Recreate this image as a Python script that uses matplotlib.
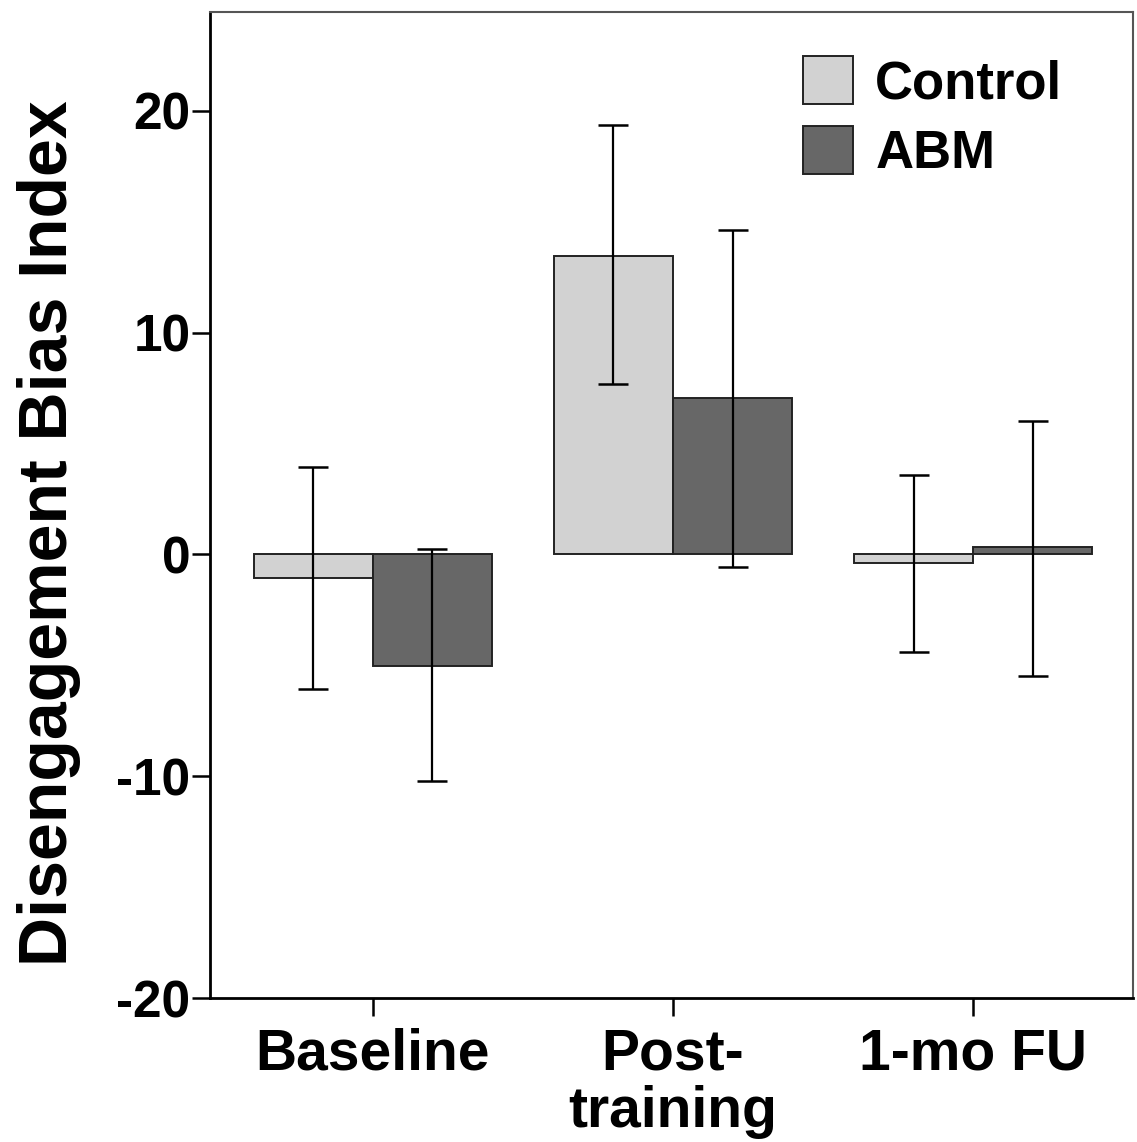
import numpy as np
import matplotlib
matplotlib.use("Agg")
import matplotlib.pyplot as plt

plt.rcParams['font.family'] = ['Liberation Sans', 'DejaVu Sans']
plt.rcParams['font.weight'] = 'bold'
plt.rcParams['axes.unicode_minus'] = False

categories = ['Baseline', 'Post-\ntraining', '1-mo FU']
groups = ['Control', 'ABM']

control_mean = [-1.05, 13.45, -0.4]
control_lo = [-6.05, 7.7, -4.38]
control_hi = [3.93, 19.35, 3.58]

abm_mean = [-5.03, 7.05, 0.32]
abm_lo = [-10.2, -0.56, -5.48]
abm_hi = [0.23, 14.62, 6.03]

colors = ['#d2d2d2', '#676767']

fig = plt.figure(figsize=(11.37, 11.42), dpi=100)
ax = fig.add_axes([210/1137, 1-998/1142, (1133-210)/1137, (998-12)/1142])

x = np.arange(len(categories))
w = 0.397
means = [control_mean, abm_mean]
los = [control_lo, abm_lo]
his = [control_hi, abm_hi]
for i, (g, m, lo, hi) in enumerate(zip(groups, means, los, his)):
    pos = x + (i - 0.5) * w
    m = np.array(m)
    yerr = [m - np.array(lo), np.array(hi) - m]
    ax.bar(pos, m, width=w, color=colors[i], edgecolor='#222222',
           linewidth=1.4, label=g, zorder=2)
    ax.errorbar(pos, m, yerr=yerr, fmt='none', ecolor='black',
                elinewidth=1.6, capsize=11, capthick=1.8, zorder=3)

ax.set_xlim(-0.543, 2.533)
ax.set_ylim(-20, 24.46)
ax.set_yticks([-20, -10, 0, 10, 20])
ax.set_xticks(x)
ax.set_xticklabels(categories, fontsize=41, fontweight='bold', linespacing=1.1)
ax.tick_params(axis='y', labelsize=37, length=13, width=1.8, direction='out', pad=1)
ax.tick_params(axis='x', length=13, width=1.8, direction='out', pad=8)
for lab in ax.get_yticklabels():
    lab.set_fontweight('bold')

for s in ['left', 'bottom']:
    ax.spines[s].set_linewidth(2.0)
    ax.spines[s].set_color('black')
for s in ['top', 'right']:
    ax.spines[s].set_linewidth(1.5)
    ax.spines[s].set_color('#555555')

fig.text(49/1137, 1-533/1142, 'Disengagement Bias Index', rotation=90,
         ha='center', va='center', fontsize=49, fontweight='bold')

ax.legend(loc='upper left', bbox_to_anchor=(0.6425, 0.955), frameon=False,
          handlelength=0.95, handleheight=1.0, handletextpad=0.42,
          labelspacing=0.33, borderpad=0, borderaxespad=0,
          prop={'weight': 'bold', 'size': 38})

fig.savefig('out.png', dpi=100)
